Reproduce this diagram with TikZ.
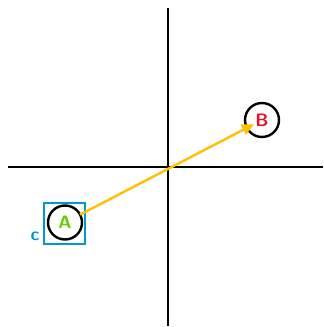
\documentclass[tikz,border=0pt]{standalone}
\usepackage{fontspec}
\setmainfont{DejaVu Sans}
\usetikzlibrary{arrows.meta}
\definecolor{agreen}{HTML}{66CC00}
\definecolor{bred}{HTML}{E8102A}
\definecolor{cblue}{HTML}{0099CC}
\definecolor{arrow}{HTML}{FFC000}
\begin{document}
\begin{tikzpicture}[x=1pt,y=-1pt,
  axis/.style={line width=2.6pt,black},
  pt/.style={circle,draw=black,line width=2.4pt,minimum size=34pt,inner sep=0pt,outer sep=0pt,font=\sffamily\bfseries\fontsize{18}{18}\selectfont},
  conn/.style={line width=2.4pt,arrow,shorten >=-8pt,-{Triangle[length=12pt,width=11pt]}}]
\useasboundingbox (0,0) rectangle (324,327);
\coordinate (top) at (168,8);
\coordinate (bot) at (168,326);
\coordinate (lft) at (8,167);
\coordinate (rgt) at (323,167);
\draw[axis] (top) -- (bot);
\draw[axis] (lft) -- (rgt);
\node[draw=cblue,line width=2.2pt,minimum size=41pt,inner sep=0pt] (box) at (64.5,223.5) {};
\node[pt,text=agreen] (A) at (65,222.5) {A};
\node[pt,text=bred] (B) at (262,120) {B};
\node[text=cblue,font=\sffamily\bfseries\fontsize{18}{18}\selectfont,inner sep=0pt] (c) at (35,236) {c};
\draw[conn] (A) -- (B);
\end{tikzpicture}
\end{document}
